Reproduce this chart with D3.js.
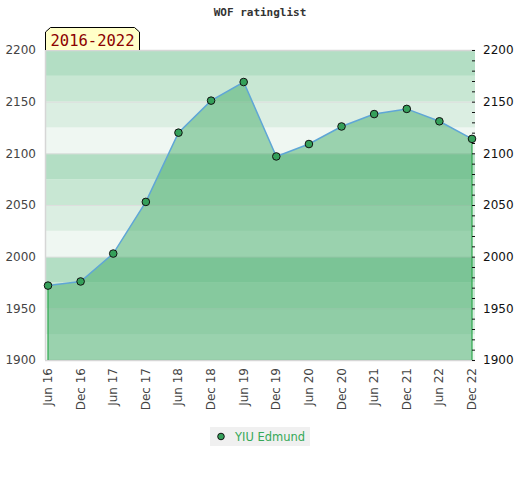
<!DOCTYPE html>
<html>
<head>
<meta charset="utf-8">
<script src="https://cdn.jsdelivr.net/npm/d3@7"></script>
<style>
  body { margin: 0; background: #fff; }
  text { font-family: "DejaVu Sans", sans-serif; }
  text.mono { font-family: "DejaVu Sans Mono", "Liberation Mono", monospace; }
</style>
</head>
<body>
<div id="chart"></div>
<script>
// data
var periods = ["Jun 16","Dec 16","Jun 17","Dec 17","Jun 18","Dec 18","Jun 19",
               "Dec 19","Jun 20","Dec 20","Jun 21","Dec 21","Jun 22","Dec 22"];
var ratings = [1972, 1976, 2003, 2053, 2120, 2151, 2169,
               2097, 2109, 2126, 2138, 2143, 2131, 2114];
var yTicks = [1900, 1950, 2000, 2050, 2100, 2150, 2200];
var playerName = "YIU Edmund";
var chartTitle = "WOF ratinglist";
var rangeLabel = "2016-2022";

var W = 520, H = 480;
var plot = {left: 45, right: 475, top: 50, bottom: 360};

var svg = d3.select("#chart").append("svg")
    .attr("width", W).attr("height", H);

var x = d3.scalePoint()
    .domain(periods)
    .range([plot.left + 3, plot.right - 3]);

var y = d3.scaleLinear()
    .domain([1900, 2200])
    .range([plot.bottom, plot.top]);

// striped background, 25 point bands repeating every 100
var bandColors = ["#b3dec4", "#c8e7d3", "#dbeee2", "#eff7f2"];
var bands = d3.range(1900, 2200, 25);
svg.append("g")
  .selectAll("rect")
  .data(bands)
  .enter().append("rect")
    .attr("x", plot.left)
    .attr("width", plot.right - plot.left)
    .attr("y", function(d) { return y(d + 25); })
    .attr("height", function(d) { return y(d) - y(d + 25); })
    .attr("fill", function(d) { return bandColors[3 - ((d - 1900) / 25) % 4]; });

// grid lines
svg.append("g")
  .selectAll("line")
  .data(yTicks)
  .enter().append("line")
    .attr("x1", plot.left).attr("x2", plot.right)
    .attr("y1", function(d) { return y(d) + 0.5; })
    .attr("y2", function(d) { return y(d) + 0.5; })
    .attr("stroke", "#dedede");

// frame (left, top, bottom)
svg.append("path")
    .attr("d", "M" + (plot.left + 0.5) + "," + plot.bottom + "V" + (plot.top + 0.5) + "H" + plot.right +
               "M" + plot.left + "," + (plot.bottom + 0.5) + "H" + plot.right)
    .attr("fill", "none")
    .attr("stroke", "#d6d6d6")
    .attr("stroke-width", 1.5);

// filled area
var area = d3.area()
    .x(function(d, i) { return x(periods[i]); })
    .y0(y(1900))
    .y1(function(d) { return y(d); });

svg.append("path")
    .datum(ratings)
    .attr("d", area)
    .attr("fill", "rgb(60,167,98)")
    .attr("fill-opacity", 0.47);

// green edges down to the floor
var first = x(periods[0]), last = x(periods[periods.length - 1]);
svg.append("path")
    .attr("d", "M" + first + "," + y(ratings[0]) + "V" + y(1900) +
               "M" + last + "," + y(ratings[ratings.length - 1]) + "V" + y(1900))
    .attr("stroke", "#2fa84f")
    .attr("stroke-width", 1.2)
    .attr("fill", "none");

// rating line
var line = d3.line()
    .x(function(d, i) { return x(periods[i]); })
    .y(function(d) { return y(d); });

svg.append("path")
    .datum(ratings)
    .attr("d", line)
    .attr("fill", "none")
    .attr("stroke", "#5fa6d6")
    .attr("stroke-width", 1.5);

// markers
svg.append("g")
  .selectAll("circle")
  .data(ratings)
  .enter().append("circle")
    .attr("cx", function(d, i) { return x(periods[i]); })
    .attr("cy", function(d) { return y(d); })
    .attr("r", 3.8)
    .attr("fill", "#35a05a")
    .attr("stroke", "#111")
    .attr("stroke-width", 1);

// left axis labels
svg.append("g")
  .selectAll("text")
  .data(yTicks)
  .enter().append("text")
    .attr("x", 36)
    .attr("y", function(d) { return y(d); })
    .attr("dy", "0.35em")
    .attr("text-anchor", "end")
    .attr("font-size", 12)
    .attr("fill", "#444")
    .text(function(d) { return d; });

// right axis with minor ticks
var rightAxis = d3.axisRight(y)
    .tickValues(d3.range(1900, 2201, 10))
    .tickSize(0)
    .tickFormat("");
var ra = svg.append("g")
    .attr("transform", "translate(" + plot.right + ",0)")
    .call(rightAxis);
ra.select(".domain").remove();
ra.selectAll(".tick").append("line")
    .attr("x1", -3).attr("x2", 0)
    .attr("stroke", "#111");

svg.append("g")
  .selectAll("text")
  .data(yTicks)
  .enter().append("text")
    .attr("x", 483)
    .attr("y", function(d) { return y(d); })
    .attr("dy", "0.35em")
    .attr("font-size", 12)
    .attr("fill", "#111")
    .text(function(d) { return d; });

// x labels rotated
svg.append("g")
  .selectAll("text")
  .data(periods)
  .enter().append("text")
    .attr("transform", function(d) { return "translate(" + (x(d) + 4) + ",368) rotate(-90)"; })
    .attr("text-anchor", "end")
    .attr("font-size", 12)
    .attr("fill", "#444")
    .text(function(d) { return d; });

// title
svg.append("text")
    .attr("class", "mono")
    .attr("x", 260)
    .attr("y", 16)
    .attr("text-anchor", "middle")
    .attr("font-size", 11)
    .attr("font-weight", "bold")
    .attr("fill", "#333")
    .text(chartTitle);

// period tag
svg.append("path")
    .attr("d", "M45.5,50V32L50.5,27.5H134.5L139.5,32V50")
    .attr("fill", "#ffffc8")
    .attr("stroke", "#000")
    .attr("stroke-width", 1);
svg.append("text")
    .attr("class", "mono")
    .attr("x", 92.5)
    .attr("y", 46)
    .attr("text-anchor", "middle")
    .attr("font-size", 15.5)
    .attr("fill", "#8b0000")
    .text(rangeLabel);

// legend
var lg = svg.append("g").attr("transform", "translate(210,427)");
lg.append("rect")
    .attr("width", 100).attr("height", 19)
    .attr("fill", "#f0f0f0");
lg.append("circle")
    .attr("cx", 11).attr("cy", 9.5).attr("r", 3.3)
    .attr("fill", "#35a05a").attr("stroke", "#111");
lg.append("text")
    .attr("x", 25).attr("y", 13.5)
    .attr("font-size", 11.5)
    .attr("fill", "#35a857")
    .text(playerName);
</script>
</body>
</html>
